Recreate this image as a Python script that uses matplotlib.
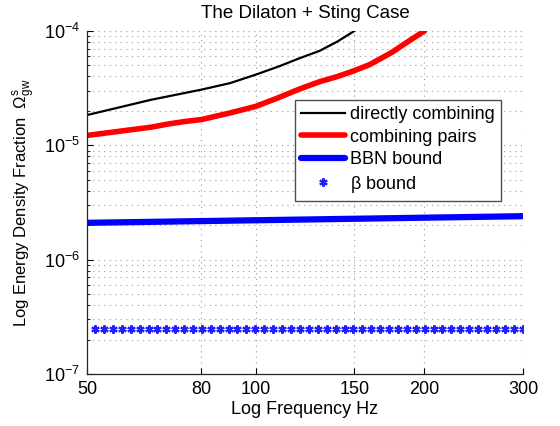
import numpy as np
import matplotlib
matplotlib.use('Agg')
import matplotlib.pyplot as plt
from matplotlib.ticker import LogLocator, FixedLocator, FixedFormatter, NullFormatter

plt.rcParams['font.family'] = ['Liberation Sans', 'DejaVu Sans']
plt.rcParams['mathtext.fontset'] = 'custom'
plt.rcParams['mathtext.rm'] = 'Liberation Sans'
plt.rcParams['mathtext.it'] = 'Liberation Sans'
plt.rcParams['mathtext.default'] = 'regular'

# directly combining
f_direct = [50, 65, 80, 90, 100, 110, 120, 130, 140, 150]
om_direct = [1.84e-5, 2.5e-5, 3.07e-5, 3.5e-5, 4.15e-5, 4.9e-5, 5.8e-5, 6.7e-5, 8.1e-5, 1.0e-4]

# combining pairs
f_pairs = [50, 60, 65, 70, 75, 80, 90, 100, 110, 120, 130, 140, 150, 160, 175, 185, 200]
om_pairs = [1.22e-5, 1.37e-5, 1.44e-5, 1.54e-5, 1.62e-5, 1.68e-5, 1.92e-5, 2.19e-5,
            2.62e-5, 3.12e-5, 3.6e-5, 4.0e-5, 4.5e-5, 5.1e-5, 6.5e-5, 7.8e-5, 1.0e-4]

# BBN bound
f_bbn = [50, 300]
om_bbn = [2.1e-6, 2.4e-6]

# beta bound
f_beta = [51.7, 53.6, 55.6, 57.7, 59.8, 62.1, 64.4, 66.8, 69.3, 71.8, 74.5, 77.3,
          80.2, 83.2, 86.3, 89.5, 92.8, 96.3, 99.9, 103.6, 107.5, 111.5, 115.6, 120.0,
          124.4, 129.1, 133.9, 138.9, 144.1, 149.4, 155.0, 160.8, 166.8, 173.0, 179.5,
          186.2, 193.1, 200.3, 207.8, 215.5, 223.6, 231.9, 240.6, 249.6, 258.9, 268.5,
          278.5, 288.9, 300.0]
om_beta = [2.5e-7] * len(f_beta)

xticks = [50, 80, 100, 150, 200, 300]

fig = plt.figure(figsize=(5.6, 4.26), dpi=100)
ax = fig.add_axes([87 / 560, 1 - 374 / 426, 436 / 560, 343 / 426])

ax.plot(f_direct, om_direct, color='black', lw=1.6, label='directly combining')
ax.plot(f_pairs, om_pairs, color='red', lw=4, label='combining pairs', solid_capstyle='round')
ax.plot(f_bbn, om_bbn, color='blue', lw=4.5, label='BBN bound', solid_capstyle='round')
ax.plot(f_beta, om_beta, ls='none', marker=(6, 2, 0), ms=6, mew=1.5, color='#2020ff',
        label=r'$\beta$ bound')

ax.set_xscale('log')
ax.set_yscale('log')
ax.set_xlim(50, 300)
ax.set_ylim(1e-7, 1e-4)

ax.xaxis.set_major_locator(FixedLocator(xticks))
ax.xaxis.set_major_formatter(FixedFormatter([str(t) for t in xticks]))
ax.xaxis.set_minor_locator(FixedLocator([]))
ax.xaxis.set_minor_formatter(NullFormatter())
ax.yaxis.set_major_locator(LogLocator(base=10, numticks=10))
ax.yaxis.set_minor_locator(LogLocator(base=10, subs=np.arange(2, 10), numticks=10))
ax.yaxis.set_minor_formatter(NullFormatter())

grid_style = dict(ls=(0, (1, 4)), color='0.6', lw=0.8)
ax.grid(True, which='major', axis='both', **grid_style)
ax.grid(True, which='minor', axis='y', **grid_style)

for s in ['top', 'right']:
    ax.spines[s].set_visible(False)
for s in ['left', 'bottom']:
    ax.spines[s].set_linewidth(0.9)
    ax.spines[s].set_color('0.15')

ax.tick_params(which='both', direction='in', top=False, right=False, labelsize=13, pad=5)
ax.tick_params(which='major', length=4)
ax.tick_params(which='minor', length=2)

ax.set_title('The Dilaton + Sting Case', fontsize=13.5, pad=9)
ax.set_xlabel('Log Frequency Hz', fontsize=13, labelpad=2)
ax.set_ylabel(r'Log Energy Density Fraction  $\Omega^s_{gw}$', fontsize=12, labelpad=4)

leg = ax.legend(loc='upper left', bbox_to_anchor=(0.477, 0.799), borderaxespad=0,
                fontsize=13, fancybox=False, framealpha=1, edgecolor='0.3',
                handlelength=2.4, handletextpad=0.3, borderpad=0.35, labelspacing=0.3)
leg.get_frame().set_linewidth(1.0)

fig.savefig('out.png', dpi=100)
